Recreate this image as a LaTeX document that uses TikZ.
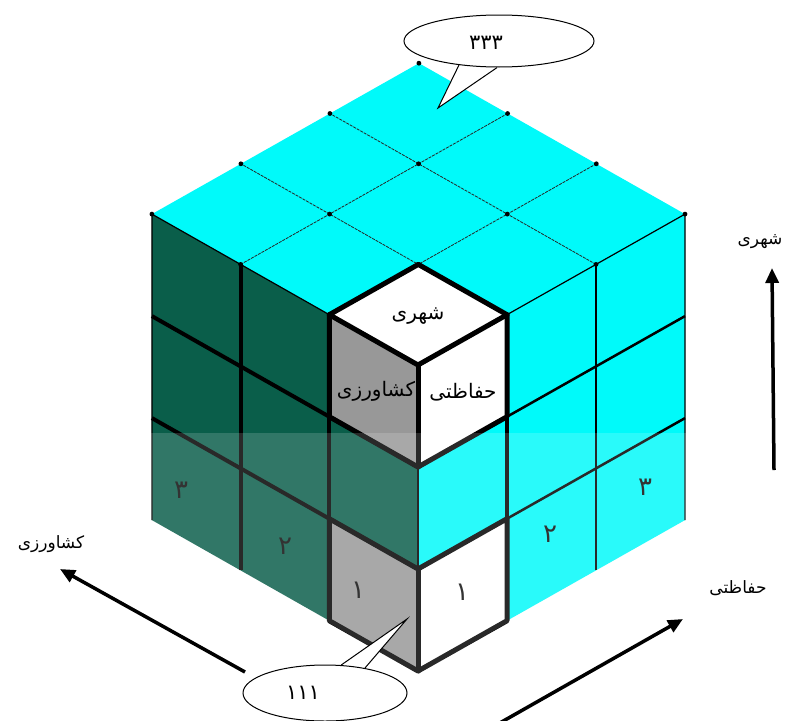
\documentclass[tikz,border=0pt]{standalone}
\usepackage{fontspec}
\usetikzlibrary{arrows.meta,shapes.geometric}
\newfontfamily\arabicfont[Script=Arabic]{DejaVu Sans}
\TeXXeTstate=1
\definecolor{cubecyan}{RGB}{0,250,250}
\definecolor{cubegreen}{RGB}{10,94,74}
\definecolor{cubegray}{RGB}{152,152,152}
\newcommand{\fa}[1]{{\arabicfont\beginR #1\endR}}
\begin{document}
\begin{tikzpicture}[x=1pt,y=-1pt,
  gridline/.style={line width=0.8pt,black!85,dash pattern=on 3pt off 1pt},
  facethick/.style={line width=4pt,black},
  facemid/.style={line width=2.5pt,black},
  edgethin/.style={line width=1.2pt,black},
  hilite/.style={line width=5pt,black,line join=round,line cap=round},
  celltext/.style={font=\arabicfont\fontsize{20}{22}\selectfont,inner sep=0pt},
  digit/.style={font=\arabicfont\fontsize{26}{28}\selectfont,inner sep=0pt,text=black!80},
  axislabel/.style={font=\arabicfont\fontsize{17}{19}\selectfont,inner sep=0pt},
  callout/.style={ellipse,draw,line width=1pt,fill=white,inner sep=0pt},
  callouttext/.style={font=\arabicfont\fontsize{21}{23}\selectfont,inner sep=0pt},
  axisarrow/.style={line width=3.5pt,-{Triangle[length=15pt,width=13pt]}}
]
\useasboundingbox (0,0) rectangle (794,720);
\fill[white] (0,0) rectangle (794,720);

\begin{scope}[shift={(418,671)},x={(89pt,50.3pt)},y={(-88.7pt,50.3pt)},z={(0pt,102pt)}]
  \coordinate (O) at (0,0,0);
  \coordinate (LB) at (0,3,0);
  \coordinate (LT) at (0,3,3);
  \coordinate (FT) at (0,0,3);
  \coordinate (RT) at (3,0,3);
  \coordinate (RB) at (3,0,0);
  % faces
  \fill[cubecyan] (0,0,3) -- (3,0,3) -- (3,3,3) -- (0,3,3) -- cycle;
  \fill[cubegreen] (0,0,0) -- (0,3,0) -- (0,3,3) -- (0,0,3) -- cycle;
  \fill[cubecyan] (0,0,0) -- (3,0,0) -- (3,0,3) -- (0,0,3) -- cycle;
  % highlighted cubelets
  \fill[white] (0,0,3) -- (1,0,3) -- (1,1,3) -- (0,1,3) -- cycle;
  \fill[cubegray] (0,0,2) -- (0,1,2) -- (0,1,3) -- (0,0,3) -- cycle;
  \fill[white] (0,0,2) -- (1,0,2) -- (1,0,3) -- (0,0,3) -- cycle;
  \fill[cubegray] (0,0,0) -- (0,1,0) -- (0,1,1) -- (0,0,1) -- cycle;
  \fill[white] (0,0,0) -- (1,0,0) -- (1,0,1) -- (0,0,1) -- cycle;
  % top grid
  \foreach \t in {1,2}{
    \draw[gridline] (\t,0,3) -- (\t,3,3);
    \draw[gridline] (0,\t,3) -- (3,\t,3);
  }
  \foreach \i in {0,1,2,3}{
    \foreach \j in {0,1,2,3}{
      \fill (\i,\j,3) circle[radius=2.4pt];
    }
  }
  % left face lines
  \draw[edgethin] (0,3,0) -- (0,3,3) -- (0,0,3);
  \foreach \t in {1,2}{
    \draw[facethick] (0,\t,0) -- (0,\t,3);
    \draw[facethick] (0,0,\t) -- (0,3,\t);
  }
  % right face lines
  \draw[edgethin] (3,0,0) -- (3,0,3) -- (0,0,3);
  \foreach \t in {1,2}{
    \draw[facemid] (\t,0,0) -- (\t,0,3);
    \draw[facemid] (0,0,\t) -- (3,0,\t);
  }
  \draw[facemid] (0,0,0) -- (0,0,3);
  \draw[facethick] (1,0,0) -- (1,0,3);
  % highlighted cubelet outlines
  \draw[hilite] (0,1,3) -- (1,1,3) -- (1,0,3) -- (1,0,2) -- (0,0,2) -- (0,1,2) -- cycle;
  \draw[hilite] (0,1,3) -- (0,0,3) -- (1,0,3);
  \draw[hilite] (0,0,3) -- (0,0,2);
  \draw[hilite] (0,1,0) -- (0,1,1) -- (0,0,1) -- (1,0,1) -- (1,0,0) -- (0,0,0) -- cycle;
  \draw[hilite] (0,0,0) -- (0,0,1);
\end{scope}

% faded lower band over the side faces
\begin{scope}
  \clip ([yshift=-3pt]O) -- ([xshift=-2pt]LB) -- ([xshift=-2pt]LT) -- (FT) -- ([xshift=2pt]RT) -- ([xshift=2pt]RB) -- cycle;
  \fill[white,opacity=0.16] (0,433) rectangle (794,720);
\end{scope}

% labels on the highlighted cubelet
\node[celltext] (tshahri) at (418,316) {\fa{شهری}};
\node[celltext] (tkeshavarzi) at (376,391) {\fa{کشاورزی}};
\node[celltext] (thefazati) at (463,392) {\fa{حفاظتی}};

% digits
\node[digit] (l3) at (181,490) {\fa{۳}};
\node[digit] (l2) at (285,546) {\fa{۲}};
\node[digit] (l1) at (358,590) {\fa{۱}};
\node[digit] (r1) at (462,592) {\fa{۱}};
\node[digit] (r2) at (550,534) {\fa{۲}};
\node[digit] (r3) at (645,487) {\fa{۳}};

% axes
\coordinate (aks) at (245,672);
\coordinate (ake) at (60,569);
\draw[axisarrow] (aks) -- (ake);
\node[axislabel] (lk) at (51,544) {\fa{کشاورزی}};
\coordinate (ahs) at (498,724);
\coordinate (ahe) at (683,619);
\draw[axisarrow] (ahs) -- (ahe);
\node[axislabel] (lh) at (738,588) {\fa{حفاظتی}};
\coordinate (ass) at (774,470);
\coordinate (ase) at (772,268);
\draw[axisarrow] (ass) -- (ase);
\node[axislabel] (ls) at (760,242) {\fa{شهری}};

% callouts
\node[callout,minimum width=190pt,minimum height=52pt] (ctop) at (499,41) {};
\coordinate (ctoptip) at (438,108);
\fill[white] (ctop.211) -- (ctoptip) -- (ctop.266) -- ([yshift=-6pt]ctop.266) -- ([yshift=-6pt]ctop.211) -- cycle;
\draw[line width=1pt,line join=miter] (ctop.211) -- (ctoptip) -- (ctop.266);
\node[callouttext] (ttop) at (486,43) {\fa{۳۳۳}};

\node[callout,minimum width=164pt,minimum height=56pt] (cbot) at (325,693) {};
\coordinate (cbottip) at (407,619);
\fill[white] (cbot.60) -- (cbottip) -- (cbot.32) -- ([yshift=6pt]cbot.32) -- ([yshift=6pt]cbot.60) -- cycle;
\draw[line width=1pt,line join=miter] (cbot.60) -- (cbottip) -- (cbot.32);
\node[callouttext] (tbot) at (303,693) {\fa{۱۱۱}};
\end{tikzpicture}
\end{document}
